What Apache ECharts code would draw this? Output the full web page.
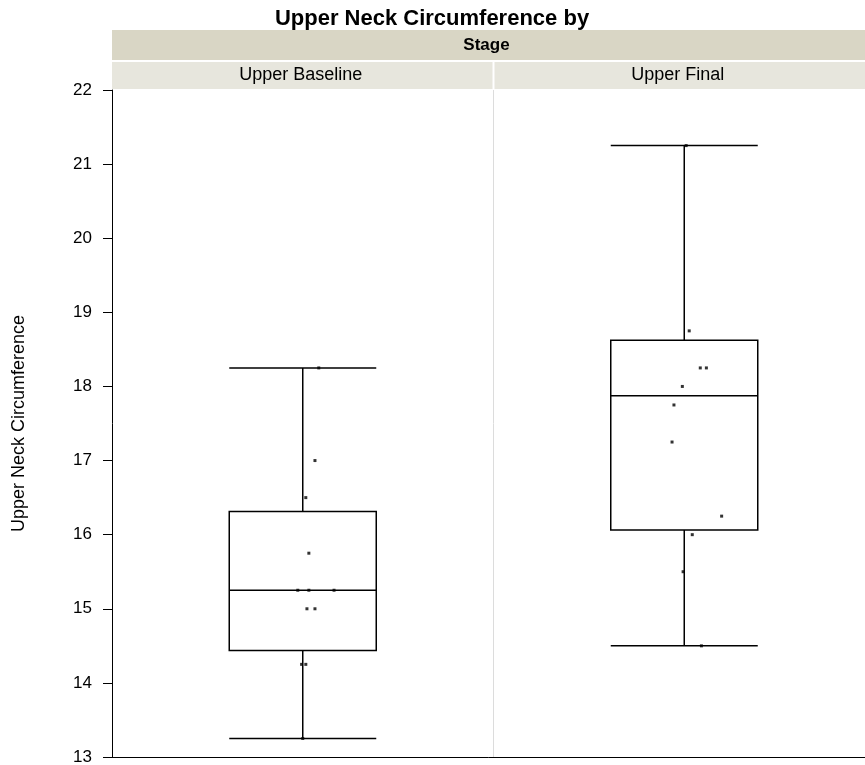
<!DOCTYPE html>
<html><head><meta charset="utf-8">
<script src="https://cdn.jsdelivr.net/npm/echarts@6/dist/echarts.min.js"></script>
<style>html,body{margin:0;padding:0;background:#fff}#c{width:865px;height:765px}</style>
</head><body><div id="c"></div>
<script>
const titleText = "Upper Neck Circumference by";
const groupLabel = "Stage";
const categories = ["Upper Baseline", "Upper Final"];
const yTitle = "Upper Neck Circumference";
// box stats: [min, Q1, median, Q3, max]
const baselineBox = [13.25, 14.4375, 15.25, 16.3125, 18.25];
const finalBox = [14.5, 16.0625, 17.875, 18.625, 21.25];
// individual observations
const baselineValues = [18.25, 17, 16.5, 15.75, 15.25, 15.25, 15.25, 15, 15, 14.25, 14.25, 13.25];
const baselineJitter = [0.042, 0.032, 0.008, 0.016, -0.013, 0.016, 0.082, 0.011, 0.032, -0.003, 0.008, 0];
const finalValues = [21.25, 18.75, 18.25, 18.25, 18, 17.75, 17.25, 16.25, 16, 15.5, 14.5];
const finalJitter = [0.005, 0.013, 0.042, 0.058, -0.005, -0.027, -0.032, 0.098, 0.021, -0.003, 0.045];

const chart = echarts.init(document.getElementById('c'));
const font = '"Liberation Sans", Arial, sans-serif';
const L = 112, R = 875, T = 90, B = 757, W = 865;
const pts = [];
baselineValues.forEach((v, i) => pts.push([0 + baselineJitter[i], v]));
finalValues.forEach((v, i) => pts.push([1 + finalJitter[i], v]));
const cellW = (R - L) / categories.length;
const graphics = [
  {type:'rect', shape:{x:L, y:30, width:W-L, height:30}, style:{fill:'#d9d6c5'}},
  {type:'text', x:(L+W)/2 - 2, y:45, style:{text:groupLabel, font:'bold 17px ' + font, fill:'#000', align:'center', verticalAlign:'middle'}},
  {type:'text', x:432, y:19, style:{text:titleText, font:'bold 22px ' + font, fill:'#000', align:'center', verticalAlign:'middle'}}
];
categories.forEach((c, i) => {
  const x0 = L + i*cellW + (i ? 1 : 0);
  const x1 = Math.min(L + (i+1)*cellW, W);
  graphics.push({type:'rect', shape:{x:x0, y:62, width:x1 - x0 - (i ? 0 : 1), height:27}, style:{fill:'#e7e6dd'}});
  graphics.push({type:'text', x:(x0 + x1)/2 - 2, y:75, style:{text:c, font:'18px ' + font, fill:'#000', align:'center', verticalAlign:'middle'}});
});
chart.setOption({
  animation:false,
  grid:{left:L, right:W-R, top:T, bottom:765-B, containLabel:false, outerBoundsMode:'none'},
  graphic:graphics,
  xAxis:[
    {type:'category', data:categories, axisLabel:{show:false}, axisTick:{show:false},
     axisLine:{onZero:false, lineStyle:{color:'#000', width:1}},
     splitLine:{show:true, lineStyle:{color:'#dcdcdc', width:1}}},
    {type:'value', min:-0.5, max:1.5, show:false}
  ],
  yAxis:{type:'value', min:13, max:22, interval:1,
    name:yTitle, nameLocation:'middle', nameGap:84, nameRotate:90,
    nameTextStyle:{fontFamily:font, fontSize:18, color:'#000'},
    axisLine:{show:true, onZero:false, lineStyle:{color:'#000'}},
    axisTick:{show:true, inside:false, length:9, lineStyle:{color:'#000'}},
    axisLabel:{fontFamily:font, fontSize:17, color:'#000', margin:20},
    splitLine:{show:false}},
  series:[
    {type:'boxplot', xAxisIndex:0, data:[baselineBox, finalBox], boxWidth:[147,147],
     itemStyle:{color:'#fff', borderColor:'#000', borderWidth:1.5}},
    {type:'scatter', xAxisIndex:1, data:pts, symbol:'rect', symbolSize:3,
     itemStyle:{color:'#000'}, z:5}
  ]
});
</script></body></html>
